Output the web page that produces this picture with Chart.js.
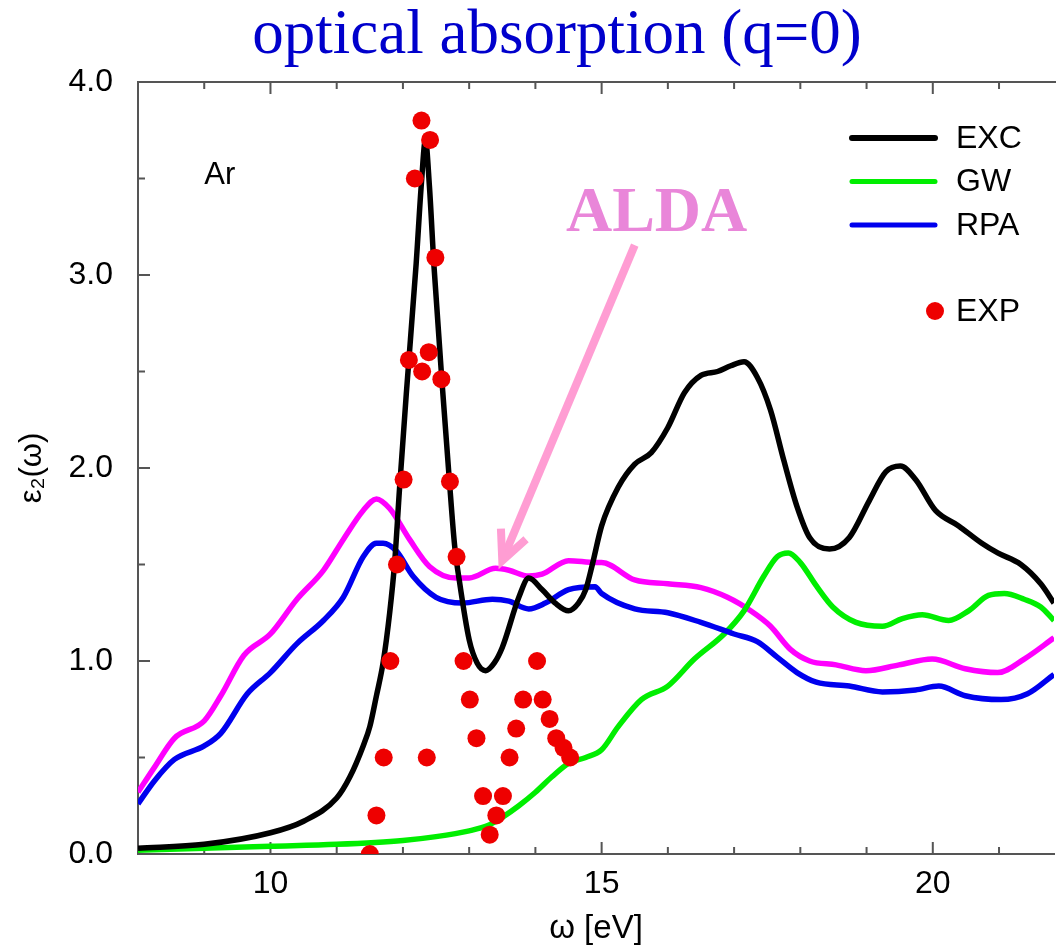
<!DOCTYPE html>
<html>
<head>
<meta charset="utf-8">
<script src="https://cdn.jsdelivr.net/npm/chart.js@4.4.1/dist/chart.umd.min.js"></script>
<style>
    html, body { margin: 0; padding: 0; background: #fff; overflow: hidden; }
    #wrap { width: 1063px; height: 950px; }
</style>
</head>
<body>
<div id="wrap"><canvas id="absChart" width="1063" height="950"></canvas></div>
<script>
// EXC (black)
const excOmega = [8.0, 9.0, 10.0, 10.5, 11.0, 11.2, 11.4, 11.5, 11.6, 11.7, 11.8, 11.875, 11.95, 12.05, 12.2, 12.28, 12.34, 12.4, 12.47, 12.6, 12.7, 12.78, 12.85, 13.0, 13.12, 13.25, 13.38, 13.5, 13.75, 13.9, 14.1, 14.3, 14.5, 14.65, 14.76, 14.86, 15.0, 15.25, 15.5, 15.75, 16.0, 16.25, 16.5, 16.75, 16.95, 17.15, 17.35, 17.55, 17.75, 17.95, 18.14, 18.44, 18.74, 19.04, 19.29, 19.51, 19.74, 20.04, 20.39, 20.74, 20.98, 21.33, 21.63, 21.83];
const excEps   = [0.03, 0.05, 0.11, 0.17, 0.29, 0.40, 0.56, 0.66, 0.82, 0.99, 1.25, 1.51, 1.90, 2.38, 3.06, 3.48, 3.70, 3.46, 3.04, 2.40, 1.94, 1.60, 1.42, 1.11, 0.99, 0.95, 0.99, 1.07, 1.33, 1.43, 1.37, 1.30, 1.26, 1.30, 1.37, 1.50, 1.70, 1.90, 2.02, 2.08, 2.21, 2.39, 2.48, 2.50, 2.53, 2.55, 2.47, 2.30, 2.04, 1.80, 1.64, 1.58, 1.64, 1.83, 1.98, 2.01, 1.94, 1.78, 1.70, 1.61, 1.56, 1.50, 1.40, 1.30];

// GW (green)
const gwOmega = [8.0, 9.0, 10.0, 11.0, 12.0, 12.5, 13.0, 13.3, 13.5, 13.75, 14.0, 14.25, 14.5, 14.76, 15.0, 15.25, 15.6, 16.0, 16.4, 16.85, 17.15, 17.45, 17.65, 17.82, 18.0, 18.24, 18.49, 18.84, 19.24, 19.54, 19.84, 20.24, 20.54, 20.84, 21.08, 21.38, 21.63, 21.83];
const gwEps   = [0.02, 0.03, 0.04, 0.05, 0.07, 0.09, 0.12, 0.15, 0.19, 0.25, 0.32, 0.40, 0.47, 0.50, 0.54, 0.66, 0.80, 0.87, 1.01, 1.14, 1.26, 1.44, 1.54, 1.56, 1.51, 1.39, 1.28, 1.20, 1.18, 1.22, 1.24, 1.21, 1.26, 1.34, 1.35, 1.32, 1.28, 1.21];

// RPA (blue)
const rpaOmega = [8.0, 8.25, 8.55, 9.0, 9.25, 9.65, 10.0, 10.4, 10.8, 11.1, 11.4, 11.6, 11.7, 11.9, 12.15, 12.5, 12.9, 13.35, 13.6, 13.9, 14.15, 14.5, 14.9, 15.0, 15.5, 16.0, 16.5, 17.0, 17.35, 17.65, 17.95, 18.24, 18.74, 19.24, 19.74, 20.09, 20.49, 21.03, 21.43, 21.83];
const rpaEps   = [0.26, 0.38, 0.49, 0.56, 0.625, 0.83, 0.94, 1.09, 1.21, 1.33, 1.54, 1.61, 1.61, 1.57, 1.44, 1.33, 1.30, 1.32, 1.31, 1.27, 1.30, 1.37, 1.385, 1.35, 1.27, 1.25, 1.20, 1.14, 1.10, 1.02, 0.94, 0.89, 0.87, 0.84, 0.85, 0.87, 0.82, 0.80, 0.83, 0.93];

// ALDA (magenta)
const aldaOmega = [8.0, 8.25, 8.55, 9.0, 9.25, 9.6, 10.0, 10.4, 10.8, 11.1, 11.4, 11.6, 11.8, 12.1, 12.4, 12.8, 13.0, 13.4, 13.6, 13.9, 14.1, 14.5, 14.9, 15.0, 15.5, 16.0, 16.5, 16.9, 17.25, 17.55, 17.85, 18.14, 18.54, 18.99, 19.49, 19.99, 20.49, 20.98, 21.38, 21.83];
const aldaEps   = [0.32, 0.45, 0.60, 0.69, 0.82, 1.03, 1.14, 1.32, 1.47, 1.63, 1.78, 1.84, 1.79, 1.63, 1.49, 1.43, 1.43, 1.48, 1.47, 1.44, 1.45, 1.52, 1.51, 1.51, 1.42, 1.40, 1.38, 1.33, 1.26, 1.18, 1.06, 1.00, 0.98, 0.95, 0.98, 1.01, 0.96, 0.94, 1.01, 1.12];

// EXP (red dots)
const expOmega = [11.5, 11.6, 11.71, 11.81, 11.91, 12.01, 12.09, 12.18, 12.28, 12.29, 12.36, 12.39, 12.41, 12.49, 12.58, 12.71, 12.81, 12.915, 13.01, 13.11, 13.21, 13.31, 13.41, 13.51, 13.61, 13.71, 13.815, 14.025, 14.11, 14.215, 14.315, 14.425, 14.525];
const expEps   = [0.0, 0.2, 0.5, 1.0, 1.5, 1.94, 2.56, 3.5, 3.8, 2.5, 0.5, 2.6, 3.7, 3.09, 2.46, 1.93, 1.54, 1.0, 0.8, 0.6, 0.3, 0.1, 0.2, 0.3, 0.5, 0.65, 0.8, 1.0, 0.8, 0.7, 0.6, 0.55, 0.5];

const xMin = 8, xMax = 21.83;
const yMin = 0, yMax = 4;

const sansFont = "'Liberation Sans', Arial, Helvetica, sans-serif";
const serifFont = "'Liberation Serif', 'Times New Roman', Times, serif";
const axisColor = '#555555';

const toPoints = (xs, ys) => xs.map((v, i) => ({ x: v, y: ys[i] }));

function curve(label, xs, ys, color, order) {
    return {
        label: label,
        data: toPoints(xs, ys),
        borderColor: color,
        backgroundColor: color,
        borderWidth: 5.5,
        pointRadius: 0,
        fill: false,
        cubicInterpolationMode: 'monotone',
        order: order
    };
}

const datasets = [
    curve('EXC', excOmega, excEps, '#000000', 1),
    curve('GW', gwOmega, gwEps, '#00ee00', 3),
    curve('RPA', rpaOmega, rpaEps, '#0000ee', 2),
    curve('ALDA', aldaOmega, aldaEps, '#ff00ff', 4),
    {
        label: 'EXP',
        data: toPoints(expOmega, expEps),
        showLine: false,
        pointRadius: 9,
        pointHoverRadius: 9,
        pointBorderWidth: 0,
        backgroundColor: '#ee0000',
        borderColor: '#ee0000',
        order: 0
    }
];
// the magenta curve has no legend entry in the figure
datasets[3].noLegend = true;

// inward tick marks + top frame line
const innerTicks = {
    id: 'innerTicks',
    beforeDatasetsDraw(chart) {
        const { ctx, chartArea: a, scales: { x, y } } = chart;
        ctx.save();
        ctx.strokeStyle = axisColor;
        ctx.lineWidth = 2;
        ctx.beginPath();
        ctx.moveTo(a.left, a.top);
        ctx.lineTo(a.right + 2, a.top);
        x.ticks.forEach(t => {
            const px = x.getPixelForValue(t.value);
            const len = t.value % 5 === 0 ? 12 : 7;
            ctx.moveTo(px, a.bottom); ctx.lineTo(px, a.bottom - len);
            ctx.moveTo(px, a.top); ctx.lineTo(px, a.top + len);
        });
        y.ticks.forEach(t => {
            const py = y.getPixelForValue(t.value);
            const len = Number.isInteger(t.value) ? 12 : 7;
            ctx.moveTo(a.left, py); ctx.lineTo(a.left + len, py);
        });
        ctx.stroke();
        ctx.restore();
    }
};

// legend inside the plot, upper right
const insideLegend = {
    id: 'insideLegend',
    afterDatasetsDraw(chart) {
        const { ctx } = chart;
        ctx.save();
        ctx.font = '32px ' + sansFont;
        ctx.textBaseline = 'middle';
        ctx.textAlign = 'left';
        ctx.fillStyle = '#000';
        let rowY = 138;
        chart.data.datasets.forEach(ds => {
            if (ds.noLegend) return;
            if (ds.showLine === false) {
                rowY = 311;
                ctx.fillStyle = ds.backgroundColor;
                ctx.beginPath();
                ctx.arc(935, rowY, 9, 0, Math.PI * 2);
                ctx.fill();
            } else {
                ctx.strokeStyle = ds.borderColor;
                ctx.lineWidth = ds.label === 'EXC' ? 6 : 5;
                ctx.lineCap = 'round';
                ctx.beginPath();
                ctx.moveTo(852, rowY);
                ctx.lineTo(935, rowY);
                ctx.stroke();
            }
            ctx.fillStyle = '#000';
            ctx.fillText(ds.label, 956, rowY + 1);
            rowY += 43.5;
        });
        ctx.restore();
    }
};

// title, "Ar" label, ALDA note and arrow
const notes = {
    id: 'notes',
    afterDraw(chart) {
        const { ctx, scales: { x, y } } = chart;
        ctx.save();
        ctx.fillStyle = '#0000cc';
        ctx.font = '63px ' + serifFont;
        ctx.textAlign = 'center';
        ctx.textBaseline = 'alphabetic';
        ctx.fillText('optical absorption (q=0)', 557, 53);

        ctx.fillStyle = '#000';
        ctx.font = '31px ' + sansFont;
        ctx.textAlign = 'left';
        ctx.fillText('Ar', x.getPixelForValue(9.0), y.getPixelForValue(3.47));

        ctx.fillStyle = '#e986d9';
        ctx.font = 'bold 64px ' + serifFont;
        ctx.textAlign = 'center';
        ctx.fillText('ALDA', x.getPixelForValue(15.83), y.getPixelForValue(3.23));

        // arrow
        const x0 = x.getPixelForValue(15.5), y0 = y.getPixelForValue(3.155);
        const x1 = x.getPixelForValue(13.5), y1 = y.getPixelForValue(1.52);
        const ang = Math.atan2(y0 - y1, x0 - x1);
        const head = 32, spread = 0.44;
        ctx.strokeStyle = '#ff9dd3';
        ctx.lineWidth = 8;
        ctx.lineCap = 'butt';
        ctx.lineJoin = 'miter';
        ctx.beginPath();
        ctx.moveTo(x0, y0);
        ctx.lineTo(x1 + 3 * Math.cos(ang), y1 + 3 * Math.sin(ang));
        ctx.stroke();
        ctx.beginPath();
        ctx.moveTo(x1 + head * Math.cos(ang - spread), y1 + head * Math.sin(ang - spread));
        ctx.lineTo(x1, y1);
        ctx.lineTo(x1 + head * Math.cos(ang + spread), y1 + head * Math.sin(ang + spread));
        ctx.stroke();
        ctx.restore();
    }
};

Chart.defaults.font.family = sansFont;
Chart.defaults.color = '#000';

const ctx = document.getElementById('absChart').getContext('2d');
new Chart(ctx, {
    type: 'line',
    data: { datasets: datasets },
    options: {
        responsive: false,
        animation: false,
        devicePixelRatio: 1,
        layout: { padding: { top: 82, right: 0, bottom: 0, left: 0 } },
        plugins: {
            legend: { display: false },
            tooltip: { enabled: false },
            title: { display: false }
        },
        scales: {
            x: {
                type: 'linear',
                min: xMin,
                max: xMax,
                grid: { display: false, drawTicks: false },
                border: { display: true, color: axisColor, width: 2 },
                ticks: {
                    stepSize: 1,
                    autoSkip: false,
                    includeBounds: false,
                    maxRotation: 0,
                    padding: 11,
                    font: { size: 32 },
                    color: '#000',
                    callback: v => (v % 5 === 0 ? String(v) : '')
                },
                title: {
                    display: true,
                    text: 'ω [eV]',
                    font: { size: 33 },
                    color: '#000',
                    padding: { top: 0, bottom: 1 }
                },
                afterFit: s => { s.height = 96; }
            },
            y: {
                type: 'linear',
                min: yMin,
                max: yMax,
                grid: { display: false, drawTicks: false },
                border: { display: true, color: axisColor, width: 2 },
                ticks: {
                    stepSize: 0.5,
                    autoSkip: false,
                    padding: 25,
                    font: { size: 32 },
                    color: '#000',
                    callback: v => (Number.isInteger(v) ? v.toFixed(1) : '')
                },
                title: {
                    display: true,
                    text: 'ε₂(ω)',
                    font: { size: 31 },
                    color: '#000',
                    padding: { top: 14, bottom: 0 }
                },
                afterFit: s => { s.width = 138; }
            }
        }
    },
    plugins: [innerTicks, insideLegend, notes]
});
</script>
</body>
</html>
